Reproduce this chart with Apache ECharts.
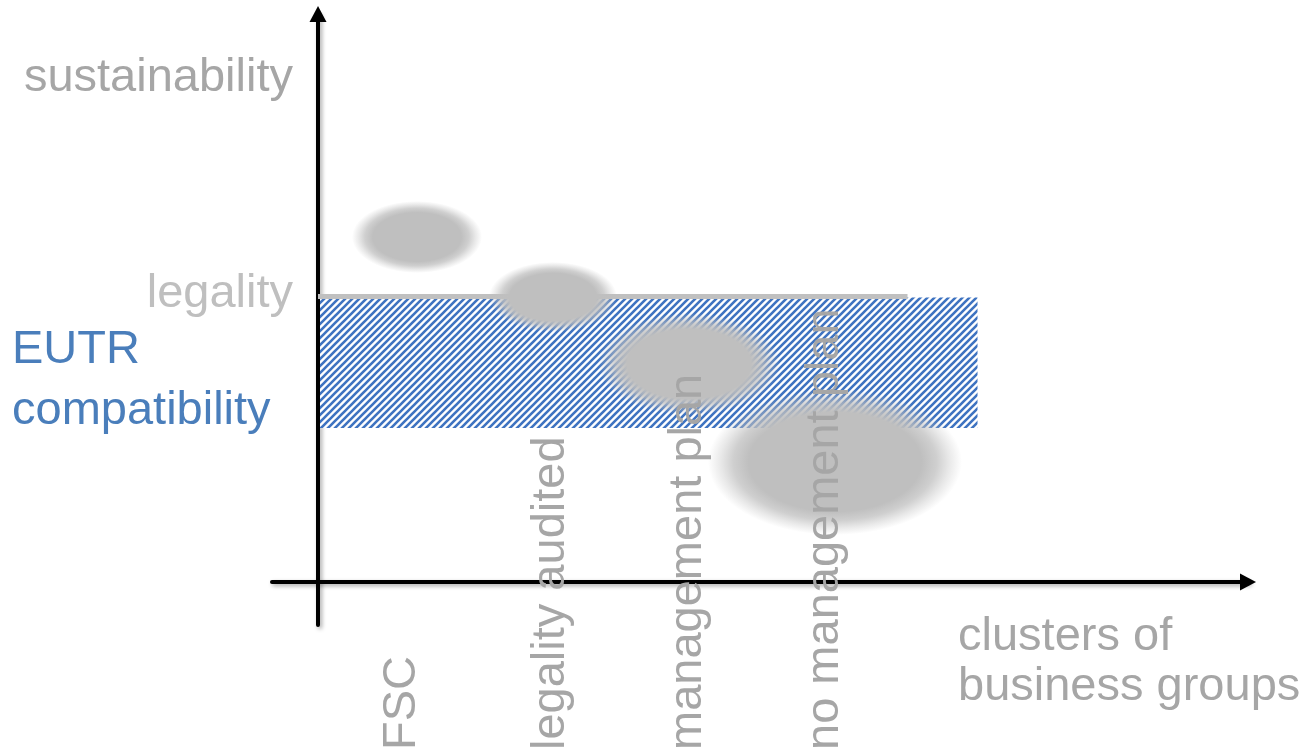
<!DOCTYPE html>
<html>
<head>
<meta charset="utf-8">
<script src="https://cdn.jsdelivr.net/npm/echarts@6/dist/echarts.min.js"></script>
<style>
html,body{margin:0;padding:0;background:#fff;}
#chart{width:1310px;height:753px;}
</style>
</head>
<body>
<div id="chart"></div>
<script>
// ---- data ----
const clusters = ['FSC', 'legality audited', 'management plan', 'no management plan'];
const clusterLabelX = [8.45, 23.35, 37.05, 50.7];
const clusterLabelY = [-16.8, -16.8, -16.8, -16.8];

const bubbleX = [9.9, 23.5, 37.1, 51.7];
const bubbleY = [34.5, 28.5, 21.8, 12.0];
const bubbleRx = [6.5, 6.4, 9.1, 12.7];
const bubbleRy = [3.6, 3.5, 5.1, 7.3];

// EUTR compatibility band: [xStart, xEnd, yLow, yHigh]
const eutrBand = [0.2, 65.95, 15.4, 28.45];
// legality line: [xStart, xEnd, y]
const legalityLine = [0, 58.95, 28.55];

const yTitles = ['sustainability', 'legality'];
const yTitleX = [-2.5, -2.5];
const yTitleY = [50.4, 28.75];
const eutrTitle = ['EUTR', 'compatibility'];
const eutrTitleX = [-30.6, -30.6];
const eutrTitleY = [23.15, 17.05];
const xTitle = ['clusters of', 'business groups'];
const xTitleX = [64.0, 64.0];
const xTitleY = [-5.55, -10.55];

// ---- chart ----
const FONT = "'Liberation Sans', Arial, sans-serif";
const chart = echarts.init(document.getElementById('chart'));

// hatch pattern
const pc = document.createElement('canvas');
pc.width = 7; pc.height = 7;
const pctx = pc.getContext('2d');
pctx.fillStyle = '#ffffff';
pctx.fillRect(0, 0, 7, 7);
pctx.strokeStyle = '#3e73c1';
pctx.lineWidth = 2.6;
pctx.beginPath();
pctx.moveTo(0, 7); pctx.lineTo(7, 0);
pctx.moveTo(-3.5, 3.5); pctx.lineTo(3.5, -3.5);
pctx.moveTo(3.5, 10.5); pctx.lineTo(10.5, 3.5);
pctx.stroke();

function textSeries(names, xs, ys, color, align, z) {
  return {
    type: 'scatter', clip: false, silent: true, z: z || 10,
    symbolSize: 0,
    itemStyle: { opacity: 1 },
    data: names.map((n, i) => ({ name: n, value: [xs[i], ys[i]] })),
    label: {
      show: true, position: [0, 0], formatter: '{b}',
      align: align, verticalAlign: 'middle',
      fontSize: 47, fontFamily: FONT, color: color, opacity: 1
    }
  };
}

const axisLineStyle = {
  color: '#000', width: 4,
  shadowColor: 'rgba(0,0,0,0.35)', shadowBlur: 4, shadowOffsetX: 2, shadowOffsetY: 2
};

const option = {
  animation: false,
  backgroundColor: '#ffffff',
  grid: { left: 272, right: 62, top: 14, bottom: 128, containLabel: false },
  xAxis: {
    type: 'value', min: -4.6, max: 93.0,
    axisLine: { show: true, onZero: true, symbol: ['none', 'triangle'], symbolSize: [17, 16], lineStyle: axisLineStyle },
    axisTick: { show: false }, axisLabel: { show: false }, splitLine: { show: false }
  },
  yAxis: {
    type: 'value', min: -4.3, max: 56.8,
    axisLine: { show: true, onZero: true, symbol: ['none', 'triangle'], symbolSize: [17, 16], lineStyle: axisLineStyle },
    axisTick: { show: false }, axisLabel: { show: false }, splitLine: { show: false }
  },
  series: [
    {
      type: 'custom', clip: false, silent: true, z: 1,
      data: [eutrBand],
      renderItem: function (params, api) {
        const p0 = api.coord([api.value(0), api.value(3)]);
        const p1 = api.coord([api.value(1), api.value(2)]);
        return {
          type: 'rect',
          shape: { x: p0[0], y: p0[1], width: p1[0] - p0[0], height: p1[1] - p0[1] },
          style: { fill: { image: pc, repeat: 'repeat' } }
        };
      }
    },
    {
      type: 'line', silent: true, z: 2, symbol: 'none',
      data: [[legalityLine[0], legalityLine[2]], [legalityLine[1], legalityLine[2]]],
      lineStyle: { color: '#c0c0c0', width: 5 }
    },
    {
      type: 'custom', clip: false, silent: true, z: 3,
      data: bubbleX.map((x, i) => [x, bubbleY[i], bubbleRx[i], bubbleRy[i]]),
      renderItem: function (params, api) {
        const c = api.coord([api.value(0), api.value(1)]);
        const rx = api.size([api.value(2), 0])[0];
        const ry = api.size([0, api.value(3)])[1];
        return {
          type: 'circle',
          x: c[0], y: c[1], scaleX: rx / ry, scaleY: 1,
          shape: { cx: 0, cy: 0, r: ry },
          style: {
            fill: new echarts.graphic.RadialGradient(0.5, 0.5, 0.5, [
              { offset: 0, color: 'rgba(191,191,191,1)' },
              { offset: 0.68, color: 'rgba(191,191,191,1)' },
              { offset: 0.8, color: 'rgba(191,191,191,0.75)' },
              { offset: 0.9, color: 'rgba(191,191,191,0.35)' },
              { offset: 1, color: 'rgba(191,191,191,0)' }
            ])
          }
        };
      }
    },
    {
      type: 'scatter', clip: false, silent: true, z: 10,
      symbolSize: 0,
      itemStyle: { opacity: 1 },
      data: clusters.map((n, i) => ({ name: n, value: [clusterLabelX[i], clusterLabelY[i]] })),
      label: {
        show: true, position: [0, 0], formatter: '{b}', rotate: 90,
        align: 'left', verticalAlign: 'middle',
        fontSize: 47, fontFamily: FONT, color: '#a6a6a6', opacity: 1
      }
    },
    textSeries([yTitles[0]], [yTitleX[0]], [yTitleY[0]], '#a6a6a6', 'right'),
    textSeries([yTitles[1]], [yTitleX[1]], [yTitleY[1]], '#bfbfbf', 'right'),
    textSeries(eutrTitle, eutrTitleX, eutrTitleY, '#4a7ebb', 'left'),
    textSeries(xTitle, xTitleX, xTitleY, '#a6a6a6', 'left')
  ]
};
chart.setOption(option);
</script>
</body>
</html>
